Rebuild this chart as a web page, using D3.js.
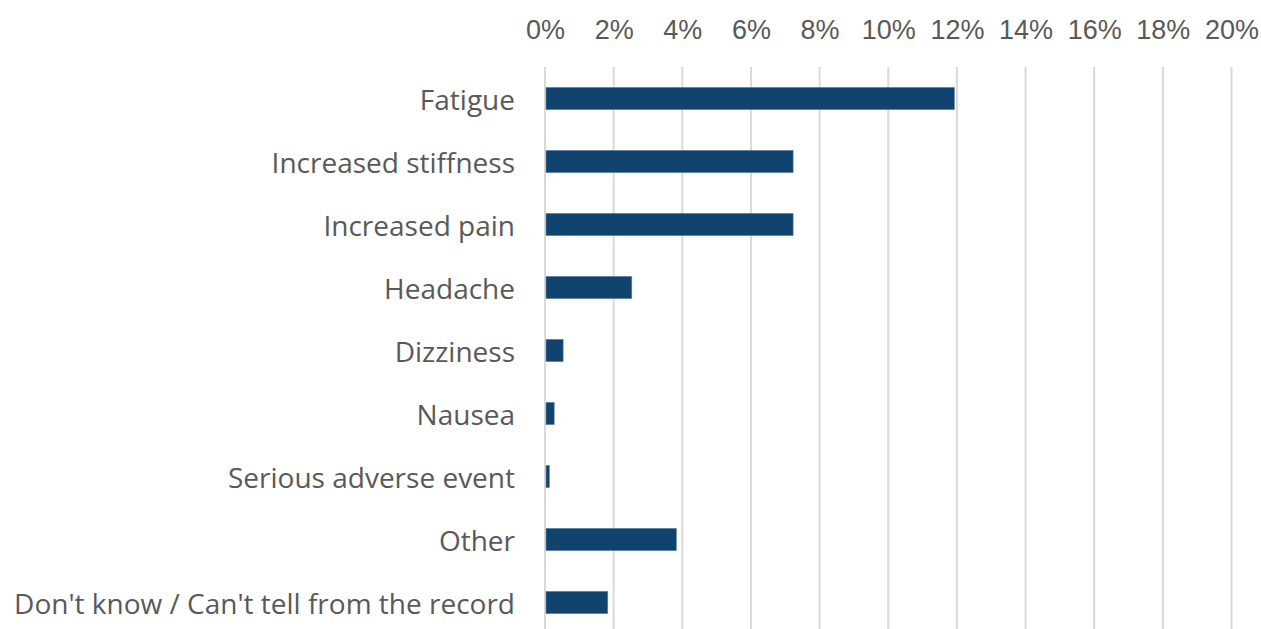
<!DOCTYPE html>
<html>
<head>
<meta charset="utf-8">
<script src="https://cdn.jsdelivr.net/npm/d3@7"></script>
<style>
  html, body { margin: 0; padding: 0; background: #fff; }
  svg { display: block; }
</style>
</head>
<body>
<svg id="chart" width="1261" height="629"></svg>
<script>
const categories = [
  "Fatigue",
  "Increased stiffness",
  "Increased pain",
  "Headache",
  "Dizziness",
  "Nausea",
  "Serious adverse event",
  "Other",
  "Don't know / Can't tell from the record"
];
const values = [0.119, 0.072, 0.072, 0.025, 0.005, 0.0024, 0.001, 0.038, 0.018];
const tickValues = [0, 0.02, 0.04, 0.06, 0.08, 0.10, 0.12, 0.14, 0.16, 0.18, 0.20];

const svg = d3.select("#chart");
const x = d3.scaleLinear().domain([0, 0.2]).range([545, 1231.5]);
const y = d3.scaleBand().domain(categories).range([67, 634])
  .paddingInner(0.645).paddingOuter(0.3225);

// top tick labels
const xAxis = d3.axisTop(x).tickValues(tickValues)
  .tickFormat(d3.format(".0%")).tickSize(0).tickPadding(0);
const gx = svg.append("g").attr("transform", "translate(0,39)").call(xAxis);
gx.select(".domain").remove();
gx.selectAll("text")
  .attr("fill", "#595959")
  .style("font-family", "'Liberation Sans', Arial, sans-serif")
  .style("font-size", "27px")
  .attr("dy", 0);

// gridlines
svg.append("g").selectAll("line").data(tickValues).join("line")
  .attr("x1", d => x(d)).attr("x2", d => x(d))
  .attr("y1", 67).attr("y2", 634)
  .attr("stroke", "#d9d9d9").attr("stroke-width", 2);

// bars
svg.append("g").selectAll("rect").data(categories).join("rect")
  .attr("x", x(0) + 1)
  .attr("y", d => y(d))
  .attr("width", (d, i) => Math.max(0, x(values[i]) - x(0)))
  .attr("height", y.bandwidth())
  .attr("fill", "#10446f")
  .attr("stroke", "#6a8aa8").attr("stroke-width", 0.6);

// category labels
const yAxis = d3.axisLeft(y).tickSize(0).tickPadding(0);
const gy = svg.append("g").attr("transform", "translate(515,0)").call(yAxis);
gy.select(".domain").remove();
gy.selectAll("text")
  .attr("fill", "#595959")
  .style("font-family", "'Open Sans', 'Noto Sans', sans-serif")
  .style("font-size", "28px")
  .attr("dy", "0.42em");
</script>
</body>
</html>
